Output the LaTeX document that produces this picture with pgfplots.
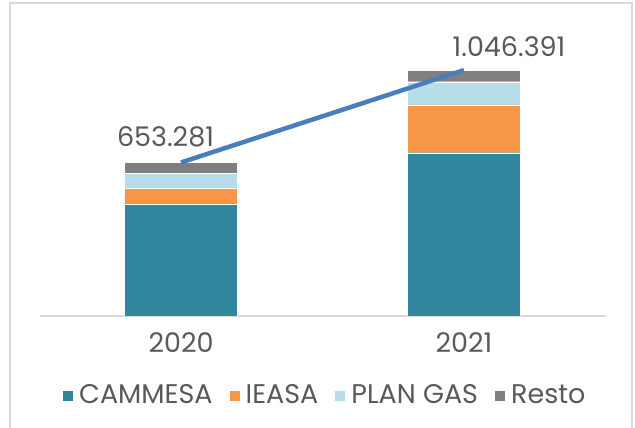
\documentclass[border=0pt]{standalone}
\usepackage{pgfplots}
\pgfplotsset{compat=1.18}
\usepackage{fontspec}
\setmainfont{Poppins}
\definecolor{cteal}{HTML}{31859C}
\definecolor{corange}{HTML}{F79646}
\definecolor{clight}{HTML}{B7DEE8}
\definecolor{cgray}{HTML}{7F7F7F}
\definecolor{cline}{HTML}{4A7EBB}
\definecolor{ctext}{HTML}{595959}
\definecolor{cframe}{HTML}{D9D9D9}
\begin{document}
\begin{tikzpicture}[x=1pt,y=1pt]
\useasboundingbox (0,0) rectangle (635,428);
\draw[cframe, line width=1.2pt] (10,-5) -- (10,425) -- (632,425) -- (632,-5);
% stacked bars
\begin{axis}[at={(39.5pt,112pt)}, anchor=south west, scale only axis,
  width=566pt, height=282pt, xmin=-0.5, xmax=1.5, ymin=0, ymax=1200,
  ybar stacked, bar width=113pt,
  hide y axis, axis x line*=bottom,
  x axis line style={draw=cframe, line width=1.5pt, -},
  xtick={0,1}, xticklabels={2020,2021}, major tick length=0pt,
  xticklabel style={font=\fontsize{27}{30}\selectfont, text=ctext, anchor=base, yshift=-37pt},
  every axis plot/.append style={draw=white, line width=0.3pt},
  legend columns=4,
  legend style={at={(0.505,-0.28)}, anchor=center, draw=none, fill=none,
    font=\fontsize{27}{30}\selectfont, text=ctext,
    /tikz/every odd column/.append style={column sep=4pt},
    /tikz/every even column/.append style={column sep=15pt}},
  legend image code/.code={\fill[#1, draw=none] (0pt,-6pt) rectangle (10pt,4pt);},
]
\addplot[fill=cteal] coordinates {(0,477) (1,695)};
\addplot[fill=corange] coordinates {(0,68) (1,203)};
\addplot[fill=clight] coordinates {(0,63) (1,99)};
\addplot[fill=cgray] coordinates {(0,45.281) (1,49.391)};
\legend{CAMMESA,IEASA,PLAN GAS,Resto}
\end{axis}
% total line
\begin{axis}[at={(39.5pt,112pt)}, anchor=south west, scale only axis,
  width=566pt, height=282pt, xmin=-0.5, xmax=1.5, ymin=0, ymax=1200,
  hide axis, clip=false]
\addplot[cline, line width=4.5pt, mark=none] coordinates {(0,653.281) (1,1046.391)};
\node[text=ctext, font=\fontsize{27}{30}\selectfont] at (axis cs:0,653.281) [xshift=-15.5pt, yshift=26pt] {653.281};
\node[text=ctext, font=\fontsize{27}{30}\selectfont] at (axis cs:1,1046.391) [xshift=45pt, yshift=23.5pt] {1.046.391};
\end{axis}
\end{tikzpicture}
\end{document}
